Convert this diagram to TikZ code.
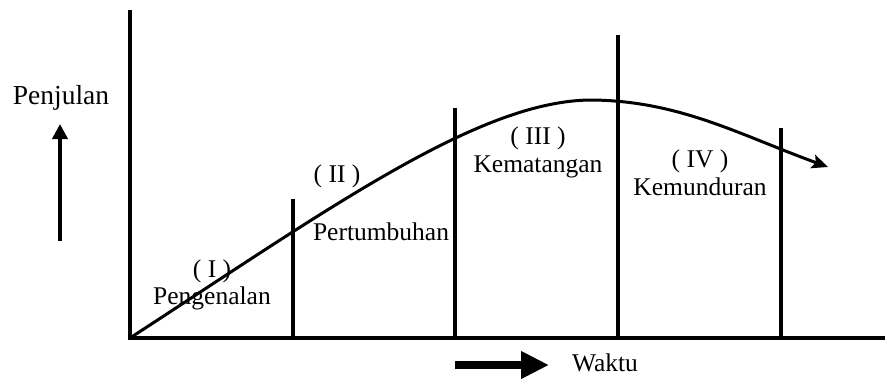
\documentclass[tikz,border=0pt]{standalone}
\usepackage{fontspec}
\setmainfont{Liberation Serif}
\usetikzlibrary{arrows.meta}
\begin{document}
\begin{tikzpicture}[x=1pt,y=-1pt,
  lbl/.style={font=\fontsize{25.5}{28}\selectfont, inner sep=0pt, anchor=base},
  axis/.style={line width=4.5pt},
  bar/.style={line width=4pt},
  curve/.style={line width=3pt, -{Stealth[length=16pt,width=14pt,inset=3pt]}},
  uparrow/.style={line width=4.5pt, -{Triangle[length=15pt,width=15pt]}},
  rarrow/.style={line width=8pt, -{Triangle[length=28pt,width=26pt]}}]
\useasboundingbox (0,0) rectangle (885,378);
% axes
\coordinate (ytop) at (130,10);
\coordinate (orig) at (130,338);
\coordinate (xend) at (885,338);
\draw[axis] (ytop) -- (130,340.2);
\draw[axis] (128,338) -- (xend);
% stage boundaries
\coordinate (b1t) at (293,199); \coordinate (b1b) at (293,338);
\coordinate (b2t) at (455,108); \coordinate (b2b) at (455,338);
\coordinate (b3t) at (618,35);  \coordinate (b3b) at (618,338);
\coordinate (b4t) at (781,128); \coordinate (b4b) at (781,338);
\draw[bar] (b1t) -- (b1b);
\draw[bar] (b2t) -- (b2b);
\draw[bar] (b3t) -- (b3b);
\draw[bar] (b4t) -- (b4b);
% sales curve
\coordinate (peak) at (592,100);
\coordinate (cend) at (828,167);
\draw[curve] (orig) .. controls (330,208) and (480,100) .. (peak)
  .. controls (680,101) and (740,135) .. (cend);
% y-axis label and arrow
\node[lbl, font=\fontsize{27.5}{30}\selectfont] (pj) at (61,104) {Penjulan};
\coordinate (ua1) at (60,241);
\coordinate (ua2) at (60,124);
\draw[uparrow] (ua1) -- (ua2);
% x-axis label and arrow
\coordinate (ra1) at (455,365);
\coordinate (ra2) at (549,365);
\draw[rarrow] (ra1) -- (ra2);
\node[lbl] (wk) at (605,371) {Waktu};
% stage labels
\node[lbl] (s1a) at (212,277) {( I )};
\node[lbl] (s1b) at (212,304) {Pengenalan};
\node[lbl] (s2a) at (337,182) {( II )};
\node[lbl] (s2b) at (381,240) {Pertumbuhan};
\node[lbl] (s3a) at (538,144) {( III )};
\node[lbl] (s3b) at (538,172) {Kematangan};
\node[lbl] (s4a) at (700,167) {( IV )};
\node[lbl] (s4b) at (700,195) {Kemunduran};
\end{tikzpicture}
\end{document}
